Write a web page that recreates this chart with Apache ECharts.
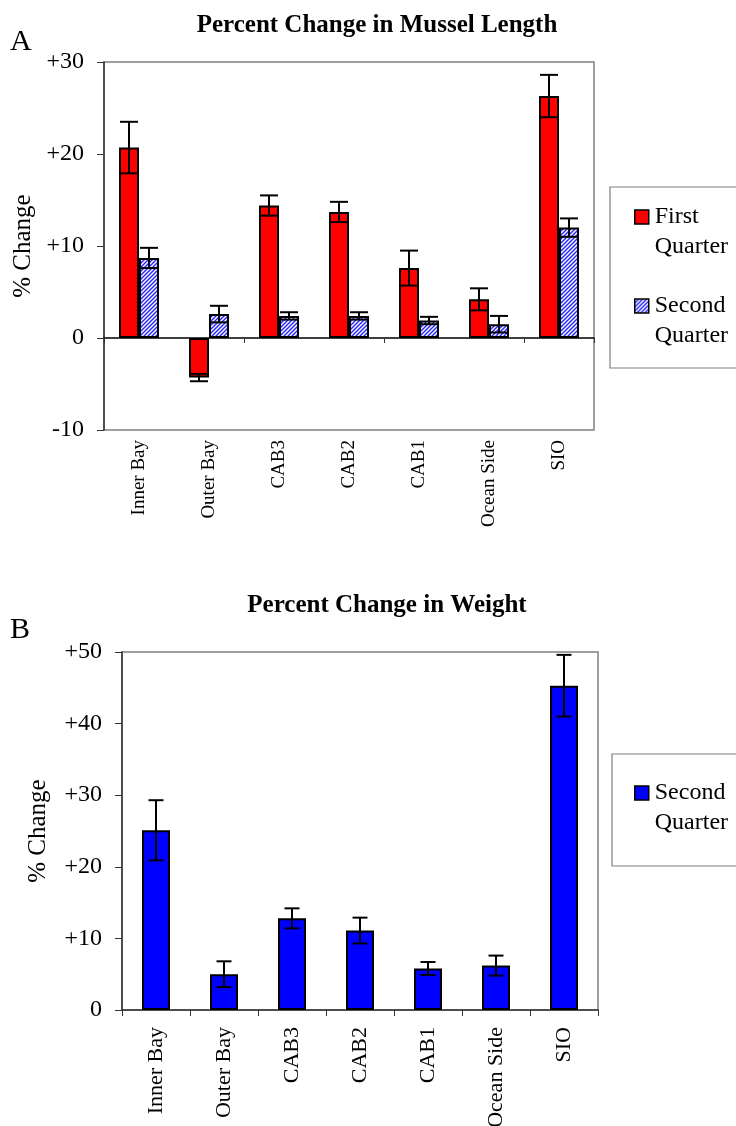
<!DOCTYPE html>
<html>
<head>
<meta charset="utf-8">
<script src="https://cdn.jsdelivr.net/npm/echarts@6/dist/echarts.min.js"></script>
<style>
html,body{margin:0;padding:0;background:#fff;}
#chart{width:736px;height:1126px;}
</style>
</head>
<body>
<div id="chart"></div>
<script>
// ---- data ----
const categories = ['Inner Bay', 'Outer Bay', 'CAB3', 'CAB2', 'CAB1', 'Ocean Side', 'SIO'];
const lengthQ1 = [20.7, -4.3, 14.4, 13.7, 7.6, 4.2, 26.3];
const lengthQ1Err = [2.8, 0.4, 1.1, 1.1, 1.9, 1.2, 2.3];
const lengthQ2 = [8.7, 2.6, 2.4, 2.4, 1.9, 1.5, 12.0];
const lengthQ2Err = [1.1, 0.9, 0.4, 0.4, 0.4, 0.9, 1.0];
const weightQ2 = [25.1, 5.0, 12.8, 11.1, 5.8, 6.2, 45.3];
const weightQ2Err = [4.2, 1.8, 1.4, 1.8, 0.9, 1.4, 4.3];
const lengthTicks = {'-10': '-10', '0': '0', '10': '+10', '20': '+20', '30': '+30'};
const weightTicks = {'0': '0', '10': '+10', '20': '+20', '30': '+30', '40': '+40', '50': '+50'};

// ---- styling ----
const FONT = '"Liberation Serif", "Times New Roman", serif';
const hatch = document.createElement('canvas');
hatch.width = 4; hatch.height = 4;
(function () {
  const g = hatch.getContext('2d');
  g.fillStyle = '#ffffff'; g.fillRect(0, 0, 4, 4);
  g.strokeStyle = '#2a2aff'; g.lineWidth = 1.5;
  g.beginPath();
  g.moveTo(0, 4); g.lineTo(4, 0);
  g.moveTo(-1, 1); g.lineTo(1, -1);
  g.moveTo(3, 5); g.lineTo(5, 3);
  g.stroke();
})();
const hatchFill = {image: hatch, repeat: 'repeat'};

function errData(vals, errs) {
  return vals.map((v, i) => [i, v - errs[i], v + errs[i]]);
}
function errSeries(name, vals, errs, xi, yi, offset, cap) {
  return {
    type: 'custom', name: name, xAxisIndex: xi, yAxisIndex: yi, z: 10,
    silent: true, legendHoverLink: false,
    encode: {x: 0, y: [1, 2]},
    data: errData(vals, errs),
    renderItem: function (params, api) {
      const lo = api.coord([api.value(0), api.value(1)]);
      const hi = api.coord([api.value(0), api.value(2)]);
      const x = lo[0] + offset;
      const st = {stroke: '#000', lineWidth: 2};
      return {type: 'group', children: [
        {type: 'line', shape: {x1: x, y1: lo[1], x2: x, y2: hi[1]}, style: st},
        {type: 'line', shape: {x1: x - cap, y1: lo[1], x2: x + cap, y2: lo[1]}, style: st},
        {type: 'line', shape: {x1: x - cap, y1: hi[1], x2: x + cap, y2: hi[1]}, style: st}
      ]};
    }
  };
}

const yLabelStyle = {fontFamily: FONT, fontSize: 24, color: '#000'};
const nameStyle = {fontFamily: FONT, fontSize: 25, color: '#000'};
const legendText = {fontFamily: FONT, fontSize: 24, color: '#000', lineHeight: 30, padding: [0, 0, 0, 1]};

const chart = echarts.init(document.getElementById('chart'), null, {renderer: 'canvas'});
chart.setOption({
  backgroundColor: '#fff',
  animation: false,
  grid: [
    {left: 104, top: 62, width: 490, height: 368, show: true, borderColor: '#808080', borderWidth: 1.5,
     containLabel: false, outerBoundsMode: 'none'},
    {left: 122, top: 652, width: 476, height: 358, show: true, borderColor: '#808080', borderWidth: 1.5,
     containLabel: false, outerBoundsMode: 'none'}
  ],
  xAxis: [
    {gridIndex: 0, type: 'category', data: categories, position: 'bottom',
     axisLine: {onZero: true, lineStyle: {color: '#000', width: 1.5}},
     axisTick: {show: true, length: 5, lineStyle: {color: '#333'}},
     axisLabel: {show: false}, splitLine: {show: false}},
    {gridIndex: 0, type: 'category', data: categories, position: 'bottom',
     axisLine: {show: false, onZero: false}, axisTick: {show: false},
     axisLabel: {rotate: 90, margin: 10, fontFamily: FONT, fontSize: 19, color: '#000'},
     splitLine: {show: false}},
    {gridIndex: 1, type: 'category', data: categories, position: 'bottom',
     axisLine: {onZero: true, lineStyle: {color: '#333', width: 1.5}},
     axisTick: {show: true, length: 6, lineStyle: {color: '#333'}},
     axisLabel: {rotate: 90, margin: 17, fontFamily: FONT, fontSize: 22, color: '#000'},
     splitLine: {show: false}}
  ],
  yAxis: [
    {gridIndex: 0, type: 'value', min: -10, max: 30, interval: 10,
     name: '% Change', nameLocation: 'middle', nameRotate: 90, nameGap: 68,
     nameTextStyle: nameStyle,
     axisLine: {show: true, lineStyle: {color: '#333', width: 1.5}},
     axisTick: {show: true, length: 7, lineStyle: {color: '#333'}},
     axisLabel: Object.assign({margin: 20, formatter: v => lengthTicks[String(v)]}, yLabelStyle),
     splitLine: {show: false}},
    {gridIndex: 1, type: 'value', min: 0, max: 50, interval: 10,
     name: '% Change', nameLocation: 'middle', nameRotate: 90, nameGap: 71,
     nameTextStyle: nameStyle,
     axisLine: {show: true, lineStyle: {color: '#333', width: 1.5}},
     axisTick: {show: true, length: 7, lineStyle: {color: '#333'}},
     axisLabel: Object.assign({margin: 20, formatter: v => weightTicks[String(v)]}, yLabelStyle),
     splitLine: {show: false}}
  ],
  legend: [
    {orient: 'vertical', left: 634, top: 172, padding: 0, itemGap: -1, itemWidth: 14, itemHeight: 14,
     icon: 'rect', data: ['First Quarter', 'Second Quarter'],
     formatter: n => '\n' + n.replace(' ', '\n'), textStyle: legendText,
     itemStyle: {borderColor: '#000', borderWidth: 1.5}},
    {orient: 'vertical', left: 634, top: 748, padding: 0, itemWidth: 14, itemHeight: 14,
     icon: 'rect', data: ['Weight Second Quarter'],
     formatter: () => '\nSecond\nQuarter', textStyle: legendText,
     itemStyle: {borderColor: '#000', borderWidth: 1.5}}
  ],
  graphic: [
    {type: 'text', x: 10, y: 42, style: {text: 'A', font: '30px ' + FONT, fill: '#000', textVerticalAlign: 'middle'}},
    {type: 'text', x: 10, y: 630, style: {text: 'B', font: '30px ' + FONT, fill: '#000', textVerticalAlign: 'middle'}},
    {type: 'text', x: 377, y: 26, style: {text: 'Percent Change in Mussel Length', font: 'bold 25px ' + FONT, fill: '#000', textAlign: 'center', textVerticalAlign: 'middle'}},
    {type: 'text', x: 387, y: 606, style: {text: 'Percent Change in Weight', font: 'bold 25px ' + FONT, fill: '#000', textAlign: 'center', textVerticalAlign: 'middle'}},
    {type: 'rect', shape: {x: 610, y: 187, width: 150, height: 181}, style: {fill: 'none', stroke: '#808080', lineWidth: 1.2}, z: -1},
    {type: 'rect', shape: {x: 612, y: 754, width: 150, height: 112}, style: {fill: 'none', stroke: '#808080', lineWidth: 1.2}, z: -1}
  ],
  series: [
    {type: 'bar', name: 'First Quarter', xAxisIndex: 0, yAxisIndex: 0, data: lengthQ1,
     barWidth: 20, barGap: '0%',
     itemStyle: {color: '#ff0000', borderColor: '#000', borderWidth: 2}},
    {type: 'bar', name: 'Second Quarter', xAxisIndex: 0, yAxisIndex: 0, data: lengthQ2,
     barWidth: 20, barGap: '0%',
     itemStyle: {color: hatchFill, borderColor: '#000', borderWidth: 2}},
    errSeries('errQ1', lengthQ1, lengthQ1Err, 0, 0, -10, 9),
    errSeries('errQ2', lengthQ2, lengthQ2Err, 0, 0, 10, 9),
    {type: 'bar', name: 'Weight Second Quarter', xAxisIndex: 2, yAxisIndex: 1, data: weightQ2,
     barWidth: 28,
     itemStyle: {color: '#0000ff', borderColor: '#000', borderWidth: 2}},
    errSeries('errW', weightQ2, weightQ2Err, 2, 1, 0, 7.5)
  ]
});
</script>
</body>
</html>
